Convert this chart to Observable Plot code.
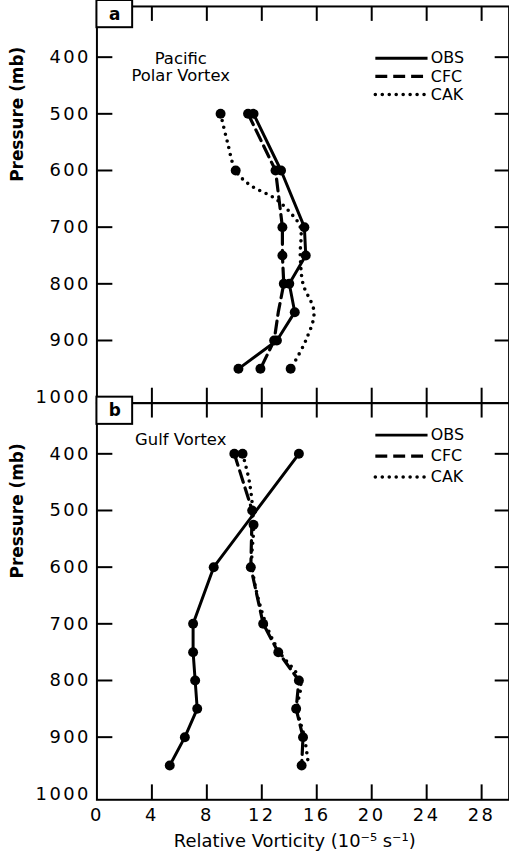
<!DOCTYPE html>
<html><head><meta charset="utf-8">
<script src="https://cdn.jsdelivr.net/npm/d3@7"></script>
<script src="https://cdn.jsdelivr.net/npm/@observablehq/plot@0.6"></script>
<style>
html,body{margin:0;padding:0;background:#fff;overflow:hidden;}
svg{display:block}
g[aria-label="y-axis tick label"] text, g[aria-label="x-axis tick label"] text {letter-spacing:2.5px}
</style></head><body><div id="chart"></div>
<script>
// ---------- data ----------
const panels = ["a", "b"];
const panelTitles = ["Pacific\nPolar Vortex", "Gulf Vortex"];
const seriesNames = ["OBS", "CFC", "CAK"];
const xTicks = [0, 4, 8, 12, 16, 20, 24, 28];
const yTicks = [400, 500, 600, 700, 800, 900, 1000];
const xTitle = "Relative Vorticity (10\u207B\u2075 s\u207B\u00B9)";
const yTitle = "Pressure (mb)";

// panel a : Pacific Polar Vortex
const aObsP = [500, 600, 700, 750, 800, 850, 900, 950];
const aObsV = [11.4, 13.4, 15.1, 15.2, 14.0, 14.4, 13.1, 10.3];
const aObsMarked = [1, 1, 1, 1, 1, 1, 1, 1];
const aCfcP = [500, 600, 700, 750, 800, 850, 900, 950];
const aCfcV = [11.0, 13.0, 13.5, 13.5, 13.6, 13.2, 12.9, 11.9];
const aCfcMarked = [1, 1, 1, 1, 1, 0, 1, 1];
const aCakP = [500, 550, 600, 625, 650, 675, 700, 750, 800, 850, 900, 950];
const aCakV = [9.0, 9.5, 10.1, 11.1, 13.0, 14.1, 14.8, 14.8, 15.0, 15.8, 15.2, 14.1];
const aCakMarked = [1, 0, 1, 0, 0, 0, 0, 0, 0, 0, 0, 1];

// panel b : Gulf Vortex
const bObsP = [400, 600, 700, 750, 800, 850, 900, 950];
const bObsV = [14.7, 8.5, 7.0, 7.0, 7.15, 7.3, 6.4, 5.3];
const bObsMarked = [1, 1, 1, 1, 1, 1, 1, 1];
const bCfcP = [400, 500, 600, 700, 750, 800, 850, 900, 950];
const bCfcV = [10.0, 11.3, 11.2, 12.1, 13.2, 14.7, 14.5, 15.0, 14.9];
const bCfcMarked = [1, 1, 1, 1, 1, 1, 1, 1, 1];
const bCakP = [400, 450, 525, 600, 700, 750, 800, 850, 900, 950];
const bCakV = [10.6, 11.1, 11.4, 11.3, 12.3, 13.3, 14.8, 14.6, 15.1, 15.4];
const bCakMarked = [1, 0, 1, 0, 0, 0, 0, 0, 0, 0];

// layout constants (in data units) for legend / labels
const legendY = {a: [402, 434, 466], b: [367, 404, 441]};
const legendX1 = 20.3, legendX2 = 24.1, legendTextX = 24.3;
const titleXY = {a: [6.1, 418], b: [6.1, 374]};
const yTitleP = 620;
const xTitleV = 14.4;
const boxX2 = 2.6, boxY2 = 348;

// ---------- build rows ----------
function rows(panel, series, P, V, M) {
  return P.map((p, i) => ({panel, series, p, v: V[i], marked: !!M[i]}));
}
const data = [
  ...rows("a", "OBS", aObsP, aObsV, aObsMarked),
  ...rows("a", "CFC", aCfcP, aCfcV, aCfcMarked),
  ...rows("a", "CAK", aCakP, aCakV, aCakMarked),
  ...rows("b", "OBS", bObsP, bObsV, bObsMarked),
  ...rows("b", "CFC", bCfcP, bCfcV, bCfcMarked),
  ...rows("b", "CAK", bCakP, bCakV, bCakMarked)
];
const styles = {
  OBS: {strokeWidth: 3},
  CFC: {strokeWidth: 3.2, strokeDasharray: "12,6"},
  CAK: {strokeWidth: 3.6, strokeDasharray: "0,7", strokeLinecap: "round"}
};
const legend = panels.flatMap(panel => seriesNames.map((s, i) => ({panel, series: s, y: legendY[panel][i]})));
const titles = panels.map((panel, i) => ({panel, text: panelTitles[i], x: titleXY[panel][0], y: titleXY[panel][1]}));

const W = 512, H = 864, ML = 97, MR = 0.4, MT = 6, MB = 60;
const FW = W - ML - MR, FH = (H - MT - MB) / 2;

const marks = [
  Plot.frame({strokeWidth: 2}),
  // inward ticks
  Plot.ruleX(xTicks.slice(1), {x: d => d, insetTop: FH - 15, strokeWidth: 2}),
  Plot.ruleX(xTicks.slice(1), {x: d => d, insetBottom: FH - 15, strokeWidth: 2}),
  Plot.ruleY(yTicks.slice(0, -1), {y: d => d, insetRight: FW - 16, strokeWidth: 2}),
  Plot.ruleY(yTicks.slice(0, -1), {y: d => d, insetLeft: FW - 14, strokeWidth: 2}),
  Plot.axisY(yTicks, {tickSize: 0, tickPadding: 6, fontSize: 18, tickFormat: d => String(d)}),
  Plot.axisX(xTicks, {anchor: "bottom", tickSize: 0, tickPadding: 9, fontSize: 18, tickFormat: d => String(d)}),
  // panel label boxes
  Plot.rect(panels, {fy: d => d, x1: 0, x2: boxX2, y1: 300, y2: boxY2, stroke: "black", strokeWidth: 2, fill: "white"}),
  Plot.text(panels, {fy: d => d, x: boxX2 / 2, y: (300 + boxY2) / 2, text: d => d, fontSize: 17, fontWeight: "bold"}),
  // series
  ...seriesNames.map(s => Plot.line(data.filter(d => d.series === s), {
    x: "v", y: "p", fy: "panel", stroke: "black", curve: s === "CAK" ? "catmull-rom" : "linear", ...styles[s]
  })),
  Plot.dot(data.filter(d => d.marked), {x: "v", y: "p", fy: "panel", r: 5, fill: "black"}),
  // legend
  ...seriesNames.map(s => Plot.ruleY(legend.filter(d => d.series === s), {
    fy: "panel", y: "y", x1: legendX1, x2: legendX2, stroke: "black", ...styles[s]
  })),
  Plot.text(legend, {fy: "panel", x: legendTextX, y: "y", text: "series", textAnchor: "start", fontSize: 16, style: "letter-spacing:2.5px"}),
  // panel titles
  Plot.text(titles, {fy: "panel", x: "x", y: "y", text: "text", fontSize: 16.5, lineHeight: 1.05, style: "letter-spacing:2px"}),
  // axis titles
  Plot.text(panels, {fy: d => d, frameAnchor: "left", y: yTitleP, text: () => yTitle, rotate: -90, dx: -80, fontSize: 17, fontWeight: "bold"}),
  Plot.text([xTitle], {fy: () => "b", x: xTitleV, frameAnchor: "bottom", dy: 47, text: d => d, fontSize: 18, style: "letter-spacing:1.6px"})
];

const chart = Plot.plot({
  width: W, height: H,
  marginLeft: ML, marginRight: MR, marginTop: MT, marginBottom: MB,
  style: {fontFamily: "DejaVu Sans", color: "black", background: "white"},
  x: {domain: [0, 30]},
  y: {domain: [300, 1000], range: [0, FH]},
  fy: {domain: panels, axis: null, paddingInner: 0, paddingOuter: 0},
  marks
});
document.getElementById("chart").appendChild(chart);
</script>
</body></html>
